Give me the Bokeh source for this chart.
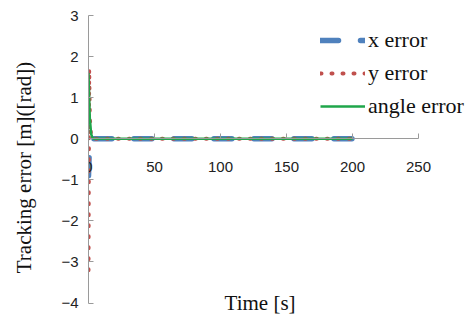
from bokeh.plotting import figure
from bokeh.models import LinearAxis, FixedTicker, Legend, LegendItem, Label, Range1d
from bokeh.embed import file_html
from bokeh.resources import INLINE

# data
time_s = [0, 0.5, 1, 2, 3, 4, 200]
x_error = [-0.9, -0.4, -0.1, 0.0, 0.0, 0.0, 0.0]
y_error = [-3.2, 1.7, 0.5, 0.05, 0.0, 0.0, 0.0]
angle_error = [1.6, 1.0, 0.5, 0.12, 0.02, 0.0, 0.0]
x_ticks = [0, 50, 100, 150, 200, 250]
y_ticks = [-4, -3, -2, -1, 0, 1, 2, 3]

FW, FH = 378, 304
x_end = 250 * FW / 330.0

serif = "'Liberation Serif', 'Times New Roman', serif"

p = figure(output_backend="svg", toolbar_location=None,
           x_range=Range1d(0, x_end), y_range=Range1d(-4.4, 3),
           frame_width=FW, frame_height=FH,
           x_axis_type=None, y_axis_type=None,
           min_border_left=88, min_border_top=15, min_border_right=1, min_border_bottom=0)
p.outline_line_color = None
p.xgrid.visible = False
p.ygrid.visible = False
p.background_fill_color = "white"

axis_col = "#9A9A9A"
tick_font = "Liberation Sans"

xa = LinearAxis(ticker=FixedTicker(ticks=x_ticks), fixed_location=0, bounds=(0, 250))
xa.axis_line_color = axis_col
xa.major_tick_line_color = axis_col
xa.major_tick_in = 5
xa.major_tick_out = 0
xa.minor_tick_line_color = None
xa.major_label_standoff = 23
xa.major_label_text_font = tick_font
xa.major_label_text_font_size = "15px"
xa.major_label_text_color = "#222222"
p.add_layout(xa, "below")

ya = LinearAxis(ticker=FixedTicker(ticks=y_ticks), bounds=(-4, 3),
                axis_label="Tracking error [m]([rad])")
ya.axis_line_color = axis_col
ya.major_tick_line_color = axis_col
ya.major_tick_in = 5
ya.major_tick_out = 0
ya.minor_tick_line_color = None
ya.major_label_standoff = 10
ya.major_label_text_font = tick_font
ya.major_label_text_font_size = "15px"
ya.major_label_text_color = "#222222"
ya.axis_label_text_font = serif
ya.axis_label_text_font_style = "normal"
ya.axis_label_text_font_size = "21px"
ya.axis_label_text_color = "#111111"
ya.axis_label_standoff = 22
p.add_layout(ya, "left")

rx = p.line(time_s, x_error, line_color="#4F81BD", line_width=5.5,
            line_dash="18 22", line_cap="round")
ry = p.line(time_s, y_error, line_color="#C0504D", line_width=4,
            line_dash="1 10", line_cap="round")
ra = p.line(time_s, angle_error, line_color="#1FA64A", line_width=2.5)

p.add_layout(Label(x=130, y=-4.0, text="Time [s]", text_align="center",
                   text_baseline="middle", text_font=serif,
                   text_font_size="21px", text_color="#111111"))

legend = Legend(items=[LegendItem(label="x error", renderers=[rx]),
                       LegendItem(label="y error", renderers=[ry]),
                       LegendItem(label="angle error", renderers=[ra])],
                location=(232, 200), glyph_width=45, glyph_height=20,
                label_height=26, spacing=7, padding=0, margin=0,
                label_standoff=3, border_line_color=None,
                background_fill_alpha=0,
                label_text_font=serif, label_text_font_size="22px",
                label_text_color="#111111")
p.add_layout(legend, "center")

open("out.html", "w").write(file_html(p, INLINE))
